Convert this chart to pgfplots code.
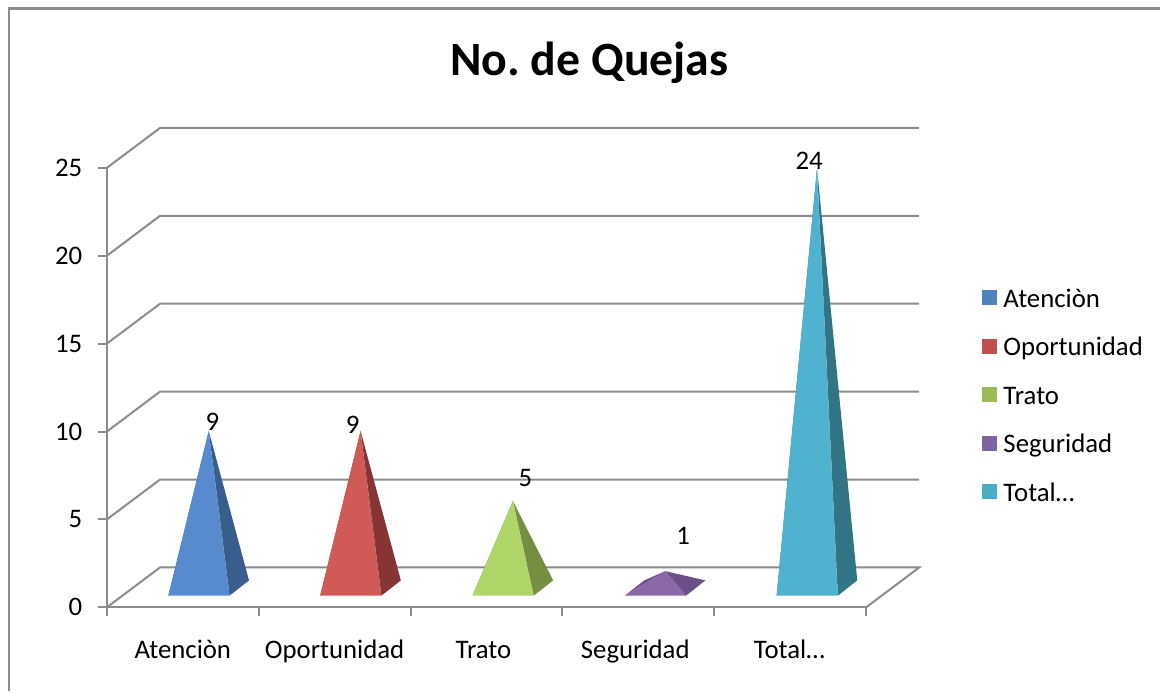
\documentclass[border=0pt]{standalone}
\usepackage{fontspec}
\setmainfont{Carlito}
\usepackage{pgfplots}
\pgfplotsset{compat=1.18}
\definecolor{gridc}{HTML}{8C8C8C}
\definecolor{lA}{HTML}{4F81BD}\definecolor{fA}{HTML}{578BCE}\definecolor{dA}{HTML}{375E8C}
\definecolor{lB}{HTML}{C0504D}\definecolor{fB}{HTML}{D05A56}\definecolor{dB}{HTML}{873534}
\definecolor{lC}{HTML}{9BBB59}\definecolor{fC}{HTML}{AFD568}\definecolor{dC}{HTML}{758F41}
\definecolor{lD}{HTML}{8064A2}\definecolor{fD}{HTML}{8B69A9}\definecolor{dD}{HTML}{6A5087}
\definecolor{lE}{HTML}{4BACC6}\definecolor{fE}{HTML}{4FB2CE}\definecolor{dE}{HTML}{317585}
\begin{document}
\frenchspacing
\begin{tikzpicture}
\begin{axis}[
  x=152bp, y=17.6bp,
  xmin=0, xmax=5, ymin=0, ymax=25,
  clip=false,
  axis x line*=bottom, axis y line*=left,
  axis line style={draw=gridc, line width=2bp, -},
  tick style={draw=gridc, line width=2bp},
  tick align=outside, major tick length=8.5bp,
  xtick={0,1,2,3,4,5}, xticklabels={},
  extra x ticks={0.5,1.5,2.48,3.48,4.495},
  extra x tick labels={Atenciòn,Oportunidad,Trato,Seguridad,Total…},
  extra x tick style={major tick length=0pt, tick style={draw=none},
    tick label style={inner sep=0pt, text height=18bp, text depth=6bp, yshift=-33bp}},
  ytick={0,5,10,15,20,25},
  /pgf/number format/assume math mode=true,
  tick label style={font=\fontsize{26.8bp}{30bp}\selectfont},
  yticklabel style={inner sep=0pt, xshift=-16bp},
  legend style={at={(axis cs:5.759,18.10)}, anchor=north west, draw=none, fill=none,
    inner sep=0pt, row sep=24.5bp, font=\fontsize{26.8bp}{30bp}\selectfont,
    nodes={inner sep=0pt, text height=18bp, text depth=6bp}},
  legend cell align=left,
  legend image code/.code={\fill[#1] (0bp,-4bp) rectangle (15bp,11bp);\path (0bp,0bp) -- (22bp,0bp);},
]
% back wall and floor lines
\addplot[gridc, line width=2bp, forget plot] coordinates {(0,0)(0.35,2.27)(5.35,2.27)(5,0)};
\addplot[gridc, line width=2bp, forget plot] coordinates {(0,5)(0.35,7.27)(5.35,7.27)};
\addplot[gridc, line width=2bp, forget plot] coordinates {(0,10)(0.35,12.27)(5.35,12.27)};
\addplot[gridc, line width=2bp, forget plot] coordinates {(0,15)(0.35,17.27)(5.35,17.27)};
\addplot[gridc, line width=2bp, forget plot] coordinates {(0,20)(0.35,22.27)(5.35,22.27)};
\addplot[gridc, line width=2bp, forget plot] coordinates {(0,25)(0.35,27.27)(5.35,27.27)};
% Atencion = 9
\addplot[draw=none, fill=dA, forget plot] coordinates {(0.405,0.665)(0.533,1.534)(0.671,10.03)} -- cycle;
\addplot[draw=none, fill=dA, forget plot] coordinates {(0.808,0.665)(0.936,1.534)(0.671,10.03)} -- cycle;
\addplot[draw=none, fill=fA, forget plot] coordinates {(0.405,0.665)(0.808,0.665)(0.671,10.03)} -- cycle;
% Oportunidad = 9
\addplot[draw=none, fill=dB, forget plot] coordinates {(1.405,0.665)(1.533,1.534)(1.671,10.03)} -- cycle;
\addplot[draw=none, fill=dB, forget plot] coordinates {(1.808,0.665)(1.936,1.534)(1.671,10.03)} -- cycle;
\addplot[draw=none, fill=fB, forget plot] coordinates {(1.405,0.665)(1.808,0.665)(1.671,10.03)} -- cycle;
% Trato = 5
\addplot[draw=none, fill=dC, forget plot] coordinates {(2.408,0.665)(2.536,1.534)(2.674,6.05)} -- cycle;
\addplot[draw=none, fill=dC, forget plot] coordinates {(2.811,0.665)(2.939,1.534)(2.674,6.05)} -- cycle;
\addplot[draw=none, fill=fC, forget plot] coordinates {(2.408,0.665)(2.811,0.665)(2.674,6.05)} -- cycle;
% Seguridad = 1
\addplot[draw=none, fill=dD, forget plot] coordinates {(3.411,0.665)(3.539,1.534)(3.677,2.06)} -- cycle;
\addplot[draw=none, fill=dD, forget plot] coordinates {(3.814,0.665)(3.942,1.534)(3.677,2.06)} -- cycle;
\addplot[draw=none, fill=fD, forget plot] coordinates {(3.411,0.665)(3.814,0.665)(3.677,2.06)} -- cycle;
% Total = 24
\addplot[draw=none, fill=dE, forget plot] coordinates {(4.411,0.665)(4.539,1.534)(4.677,24.97)} -- cycle;
\addplot[draw=none, fill=dE, forget plot] coordinates {(4.814,0.665)(4.942,1.534)(4.677,24.97)} -- cycle;
\addplot[draw=none, fill=fE, forget plot] coordinates {(4.411,0.665)(4.814,0.665)(4.677,24.97)} -- cycle;
% legend
\addlegendimage{fill=lA,draw=none}\addlegendentry{Atenciòn}
\addlegendimage{fill=lB,draw=none}\addlegendentry{Oportunidad}
\addlegendimage{fill=lC,draw=none}\addlegendentry{Trato}
\addlegendimage{fill=lD,draw=none}\addlegendentry{Seguridad}
\addlegendimage{fill=lE,draw=none}\addlegendentry{Total…}
% value labels
\begin{scope}[every node/.style={inner sep=0pt, font=\fontsize{26.8bp}{30bp}\selectfont}]
\node at (axis cs:0.695,10.53) {9};
\node at (axis cs:1.618,10.40) {9};
\node at (axis cs:2.756,7.386) {5};
\node at (axis cs:3.795,4.09) {1};
\node at (axis cs:4.625,25.40) {24};
\end{scope}
% title
\node[anchor=base, inner sep=0pt, font=\fontsize{47.8bp}{54bp}\selectfont\bfseries] at (axis cs:3.178,30.23) {No. de Quejas};
% chart frame and page extent
\draw[gridc, line width=2.5bp] (axis cs:-0.645,-4.772) -- (axis cs:-0.645,34.07) -- (axis cs:6.9342,34.07);
\path (axis cs:-0.70395,34.546) rectangle (axis cs:6.9342,-4.772);
\end{axis}
\end{tikzpicture}
\end{document}
